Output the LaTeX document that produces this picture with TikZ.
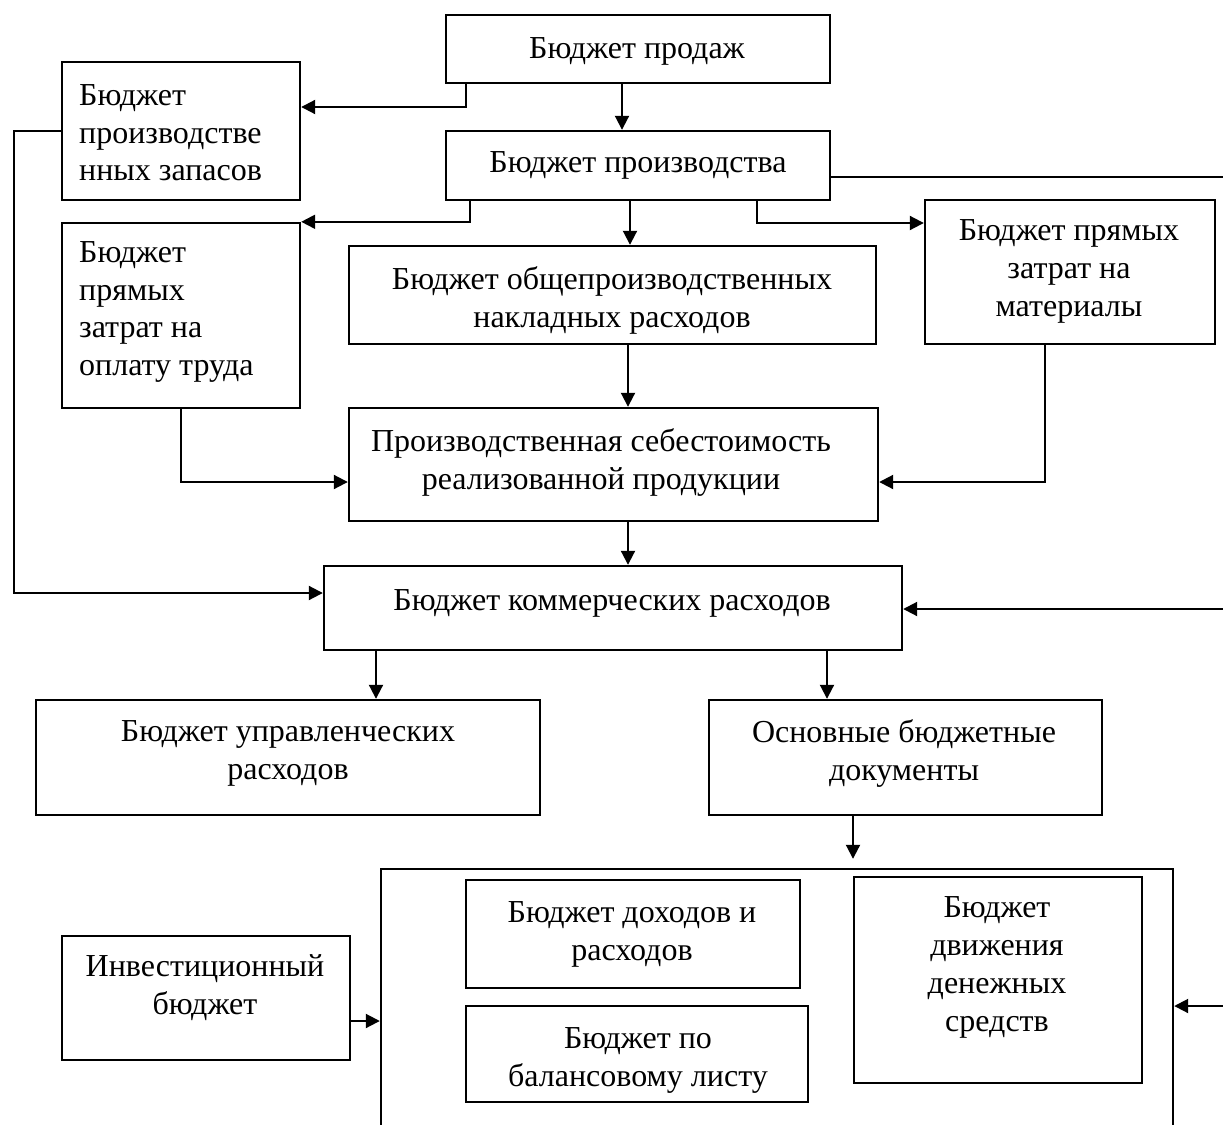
\documentclass[tikz,border=0pt]{standalone}
\usepackage{fontspec}
\setmainfont{Liberation Serif}
\usetikzlibrary{arrows.meta}
\tikzset{
  box/.style={draw, line width=2.4pt, inner sep=0pt, fill=none},
  txt/.style={inner sep=0pt, align=center, font=\fontsize{32}{38}\selectfont},
  ltxt/.style={inner sep=0pt, align=left, anchor=west, font=\fontsize{32}{37.5}\selectfont},
  conn/.style={line width=2pt},
  arr/.style={conn, -{Triangle[length=14pt, width=14pt]}}
}
\newcommand{\bx}[5]{% name, x1, y1, x2, y2
  \node[box, minimum width={(#4-#2)*1pt}, minimum height={(#5-#3)*1pt}] (#1) at ({(#2+#4)/2},{(#3+#5)/2}) {};}
\begin{document}
\begin{tikzpicture}[x=1pt,y=-1pt]
\useasboundingbox (0,0) rectangle (1223,1124);
\fill[white] (0,0) rectangle (1223,1124);
\coordinate (edge) at (1232,0);
% boxes
\bx{prod}{446}{15}{830}{83}
\bx{zap}{62}{62}{300}{200}
\bx{proizv}{446}{131}{830}{200}
\bx{trud}{62}{223}{300}{408}
\bx{obsh}{349}{246}{876}{344}
\bx{mat}{925}{200}{1215}{344}
\bx{seb}{349}{408}{878}{521}
\bx{kom}{324}{566}{902}{650}
\bx{upr}{36}{700}{540}{815}
\bx{osn}{709}{700}{1102}{815}
\bx{big}{381}{869}{1173}{1140}
\bx{doh}{466}{880}{800}{988}
\bx{bal}{466}{1006}{808}{1102}
\bx{dds}{854}{877}{1142}{1083}
\bx{inv}{62}{936}{350}{1060}
% texts
\node[txt] (t-prod) at (637,51) {Бюджет продаж};
\node[ltxt] (t-zap) at (79,133) {Бюджет\\производстве\\нных запасов};
\node[txt] (t-proizv) at (638,165) {Бюджет производства};
\node[ltxt] (t-trud) at (79,312) {Бюджет\\прямых\\затрат на\\оплату труда};
\node[txt] (t-obsh) at (612,300) {Бюджет общепроизводственных\\накладных расходов};
\node[txt] (t-mat) at (1069,271) {Бюджет прямых\\затрат на\\материалы};
\node[txt] (t-seb) at (601,462) {Производственная себестоимость\\реализованной продукции};
\node[txt] (t-kom) at (612,603) {Бюджет коммерческих расходов};
\node[txt] (t-upr) at (288,753) {Бюджет управленческих\\расходов};
\node[txt] (t-osn) at (904,753) {Основные бюджетные\\документы};
\node[txt] (t-doh) at (632,934) {Бюджет доходов и\\расходов};
\node[txt] (t-bal) at (638,1060) {Бюджет по\\балансовому листу};
\node[txt] (t-dds) at (997,967) {Бюджет\\движения\\денежных\\средств};
\node[txt] (t-inv) at (205,988) {Инвестиционный\\бюджет};
% connectors
\draw[arr] (prod.south -| 622,0) -- (proizv.north -| 622,0);
\draw[arr] (prod.south -| 466,0) |- (zap.east |- 0,107);
\draw[arr] (proizv.south -| 470,0) |- (trud.north east);
\draw[arr] (proizv.south -| 630,0) -- (obsh.north -| 630,0);
\draw[arr] (proizv.south -| 757,0) |- (mat.west |- 0,223);
\draw[conn] (proizv.east |- 0,177) -- (edge |- 0,177);
\draw[arr] (obsh.south -| 628,0) -- (seb.north -| 628,0);
\draw[arr] (trud.south -| 181,0) |- (seb.west |- 0,482);
\draw[arr] (mat.south -| 1045,0) |- (seb.east |- 0,482);
\draw[arr] (seb.south -| 628,0) -- (kom.north -| 628,0);
\draw[arr] (zap.west |- 0,131) -- (14,131) |- (kom.west |- 0,593);
\draw[arr] (edge |- 0,609) -- (kom.east |- 0,609);
\draw[arr] (kom.south -| 376,0) -- (upr.north -| 376,0);
\draw[arr] (kom.south -| 827,0) -- (osn.north -| 827,0);
\draw[arr, shorten >=9pt] (osn.south -| 853,0) -- (big.north -| 853,0);
\draw[arr] (inv.east |- 0,1021) -- (big.west |- 0,1021);
\draw[arr] (edge |- 0,1006) -- (big.east |- 0,1006);
\end{tikzpicture}
\end{document}
